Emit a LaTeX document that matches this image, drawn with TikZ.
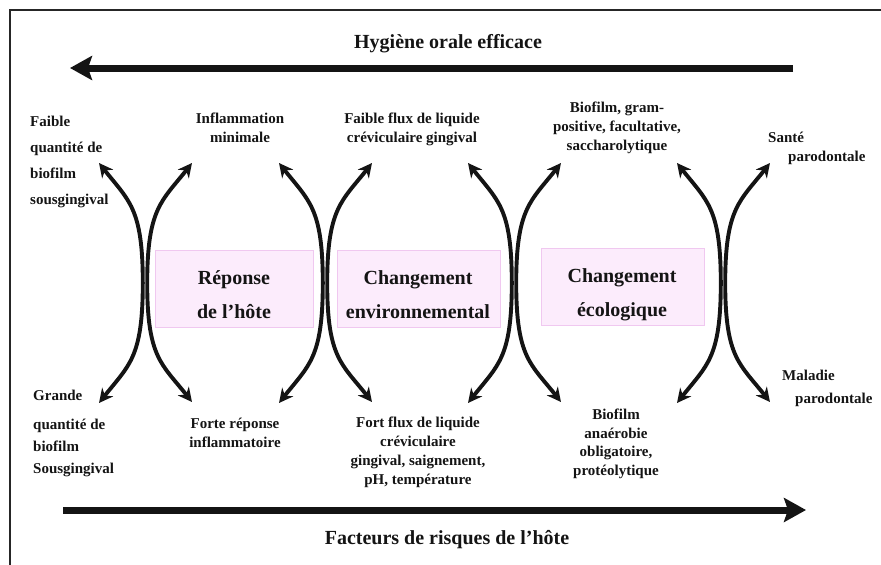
\documentclass[tikz,border=0pt]{standalone}
\usepackage{fontspec}
\setmainfont{Liberation Serif}
\usetikzlibrary{arrows.meta}
\definecolor{boxfill}{RGB}{252,236,252}
\definecolor{boxedge}{RGB}{240,200,240}
\definecolor{ink}{RGB}{20,20,20}
\tikzset{
  lbl/.style={font=\bfseries\fontsize{15}{19}\selectfont, inner sep=0pt, text=ink},
  boxtxt/.style={font=\bfseries\fontsize{20}{34}\selectfont, inner sep=0pt, align=center, anchor=base, text=ink},
  ttl/.style={font=\bfseries\fontsize{20}{24}\selectfont, inner sep=0pt, anchor=base, text=ink},
  pinkbox/.style={draw=boxedge, fill=boxfill, line width=0.8pt, anchor=north west, inner sep=0pt},
  curvearrow/.style={draw=ink, line width=3.9pt, {Stealth[length=14pt,width=14pt]}-{Stealth[length=14pt,width=14pt]}},
  bigarrow/.style={draw=ink, line width=7pt, -{Stealth[length=22pt,width=24pt,inset=4pt]}},
  frameline/.style={draw=black!85, line width=1.6pt}
}
\begin{document}
\begin{tikzpicture}[x=1pt,y=-1pt]
\useasboundingbox (0,0) rectangle (881,565);
% frame
\coordinate (fbl) at (10,566);
\coordinate (ftl) at (10,10);
\coordinate (ftr) at (882,10);
\draw[frameline] (fbl) -- (ftl) -- (ftr);
% titles and big arrows
\node[ttl] (top) at (448,48) {Hygiène orale efficace};
\coordinate (topR) at (793,68);
\coordinate (topL) at (70,68);
\draw[bigarrow] (topR) -- (topL);
\coordinate (botL) at (63,510);
\coordinate (botR) at (806,510);
\draw[bigarrow] (botL) -- (botR);
\node[ttl] (bottom) at (447,544) {Facteurs de risques de l’hôte};
% pink boxes
\node[pinkbox, minimum width=158pt, minimum height=77pt] (box1) at (155,250) {};
\node[pinkbox, minimum width=163pt, minimum height=77pt] (box2) at (337,250) {};
\node[pinkbox, minimum width=163pt, minimum height=77pt] (box3) at (541,248) {};
\node[boxtxt] (box1t) at (234,318) {Réponse\\de l’hôte};
\node[boxtxt] (box2t) at (418,318) {Changement\\environnemental};
\node[boxtxt] (box3t) at (622,316) {Changement\\écologique};
% top labels (positions give the baseline of the last line)
\node[lbl, align=left, anchor=base west, font=\bfseries\fontsize{15}{26}\selectfont] (t1) at (30,204) {Faible\\quantité de\\biofilm\\sousgingival};
\node[lbl, align=center, anchor=base] (t2) at (240,142) {Inflammation\\minimale};
\node[lbl, align=center, anchor=base] (t3) at (412,142) {Faible flux de liquide\\créviculaire gingival};
\node[lbl, align=center, anchor=base] (t4) at (617,150) {Biofilm, gram-\\positive, facultative,\\saccharolytique};
\node[lbl, anchor=base west] (t5a) at (768,142) {Santé};
\node[lbl, anchor=base west] (t5b) at (788,161) {parodontale};
% bottom labels
\node[lbl, align=left, anchor=base west, font=\bfseries\fontsize{15}{22}\selectfont] (b1) at (33,473) {Grande\\[7pt]quantité de\\biofilm\\Sousgingival};
\node[lbl, align=center, anchor=base] (b2) at (235,447) {Forte réponse\\inflammatoire};
\node[lbl, align=center, anchor=base] (b3) at (418,484) {Fort flux de liquide\\créviculaire\\gingival, saignement,\\pH, température};
\node[lbl, align=center, anchor=base, font=\bfseries\fontsize{15}{18.5}\selectfont] (b4) at (616,475) {Biofilm\\anaérobie\\obligatoire,\\protéolytique};
\node[lbl, anchor=base west] (b5a) at (782,380) {Maladie};
\node[lbl, anchor=base west] (b5b) at (795,403) {parodontale};
% curved double arrows
\foreach \i/\cx in {1/145,2/325,3/514,4/723}{
  \coordinate (p\i tl) at (\cx-46,163);
  \coordinate (p\i bl) at (\cx-46,403);
  \coordinate (p\i tr) at (\cx+47,163);
  \coordinate (p\i br) at (\cx+47,402);
  \coordinate (p\i ml) at (\cx-2.2,283);
  \coordinate (p\i mr) at (\cx+2.2,283);
  \draw[curvearrow] (p\i tl) .. controls +(30,38) and +(0,-75) .. (p\i ml) .. controls +(0,75) and +(30,-38) .. (p\i bl);
  \draw[curvearrow] (p\i tr) .. controls +(-30,38) and +(0,-75) .. (p\i mr) .. controls +(0,75) and +(-30,-38) .. (p\i br);
}
\end{tikzpicture}
\end{document}
